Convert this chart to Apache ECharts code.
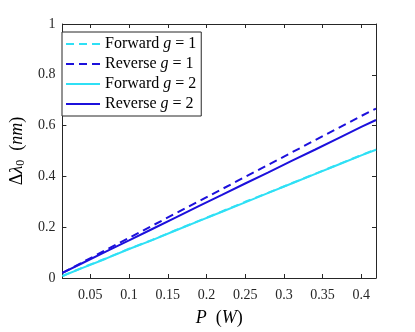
<!DOCTYPE html>
<html>
<head>
<meta charset="utf-8">
<script src="https://cdn.jsdelivr.net/npm/echarts@6/dist/echarts.min.js"></script>
<style>
  html, body { margin: 0; padding: 0; background: #fff; }
  #chart { width: 415px; height: 332px; }
</style>
</head>
<body>
<div id="chart"></div>
<script>
// P (W) sample points
var power = [0.014, 0.04, 0.07, 0.1, 0.13, 0.16, 0.19, 0.22, 0.25, 0.28, 0.31, 0.34, 0.37, 0.40, 0.419];
// delta lambda_0 (nm)
var forwardG1 = [0.008, 0.041, 0.077, 0.115, 0.150, 0.188, 0.225, 0.262, 0.300, 0.336, 0.373, 0.410, 0.447, 0.484, 0.507];
var reverseG1 = [0.020, 0.062, 0.110, 0.158, 0.206, 0.254, 0.302, 0.350, 0.398, 0.446, 0.494, 0.542, 0.590, 0.638, 0.667];
var forwardG2 = [0.008, 0.040, 0.076, 0.114, 0.149, 0.187, 0.224, 0.261, 0.298, 0.335, 0.372, 0.409, 0.446, 0.483, 0.505];
var reverseG2 = [0.020, 0.059, 0.104, 0.148, 0.193, 0.238, 0.283, 0.327, 0.372, 0.416, 0.461, 0.505, 0.550, 0.595, 0.622];
var xTicks = [0.05, 0.1, 0.15, 0.2, 0.25, 0.3, 0.35, 0.4];
var names = ['Forward g = 1', 'Reverse g = 1', 'Forward g = 2', 'Reverse g = 2'];

var cyan = '#2fe0f5';
var blue = '#1c10dc';
var axisColor = '#262626';
var font = 'Liberation Serif';

function pairs(ys) {
	return power.map(function (x, i) { return [x, ys[i]]; });
}

function makeSeries(name, ys, color, dashed) {
	return {
		name: name,
		type: 'line',
		showSymbol: false,
		symbol: 'none',
		data: pairs(ys),
		xAxisIndex: 0,
		yAxisIndex: 0,
		lineStyle: { color: color, width: 2, type: dashed ? [8, 5] : 'solid' },
		itemStyle: { color: color },
		animation: false
	};
}

var chart = echarts.init(document.getElementById('chart'));
chart.setOption({
	backgroundColor: '#fff',
	textStyle: { fontFamily: font },
	grid: { left: 54, right: 39, top: 24, bottom: 45 },
	legend: {
		data: names,
		orient: 'vertical',
		left: 62,
		top: 32,
		itemWidth: 34,
		itemHeight: 14,
		itemGap: 4,
		padding: [4, 5, 4, 3],
		backgroundColor: '#fff',
		borderColor: axisColor,
		borderWidth: 1,
		borderRadius: 0,
		itemStyle: { opacity: 0 },
		lineStyle: { width: 2 },
		formatter: function (n) {
			var parts = n.split(' g ');
			return '{a|' + parts[0] + ' }{i|g}{a| ' + parts[1] + '}';
		},
		textStyle: {
			fontFamily: font,
			fontSize: 16,
			lineHeight: 15,
			color: '#000',
			rich: {
				a: { fontFamily: font, fontSize: 16, lineHeight: 15, color: '#000' },
				i: { fontFamily: font, fontSize: 16, lineHeight: 15, fontStyle: 'italic', color: '#000' }
			}
		}
	},
	xAxis: [{
		type: 'value',
		min: 0.0139,
		max: 0.419,
		position: 'bottom',
		name: '{i|P}{r|  (}{i|W}{r|)}',
		nameLocation: 'middle',
		nameGap: 31,
		nameTextStyle: {
			rich: {
				i: { fontFamily: font, fontSize: 18, fontStyle: 'italic', color: '#000' },
				r: { fontFamily: font, fontSize: 18, color: '#000' }
			}
		},
		axisLine: { show: true, onZero: false, lineStyle: { color: axisColor, width: 1 } },
		axisTick: { show: true, inside: true, length: 4, customValues: xTicks, lineStyle: { color: axisColor } },
		axisLabel: { customValues: xTicks, margin: 10, fontFamily: font, fontSize: 14, color: '#262626' },
		splitLine: { show: false }
	}, {
		type: 'value',
		min: 0.0139,
		max: 0.419,
		position: 'top',
		axisLine: { show: true, onZero: false, lineStyle: { color: axisColor, width: 1 } },
		axisTick: { show: true, inside: true, length: 4, customValues: xTicks, lineStyle: { color: axisColor } },
		axisLabel: { show: false },
		splitLine: { show: false }
	}],
	yAxis: [{
		type: 'value',
		min: 0,
		max: 1,
		interval: 0.2,
		position: 'left',
		name: '{r|Δ}{i|λ}{s|0}{r|  (}{i|nm}{r|)}',
		nameLocation: 'middle',
		nameGap: 34,
		nameTextStyle: {
			rich: {
				i: { fontFamily: font, fontSize: 18, fontStyle: 'italic', color: '#000' },
				r: { fontFamily: font, fontSize: 18, color: '#000' },
				s: { fontFamily: font, fontSize: 12, color: '#000', padding: [8, 0, 0, 0] }
			}
		},
		axisLine: { show: true, onZero: false, lineStyle: { color: axisColor, width: 1 } },
		axisTick: { show: true, inside: true, length: 4, lineStyle: { color: axisColor } },
		axisLabel: { margin: 7, fontFamily: font, fontSize: 14, color: '#262626' },
		splitLine: { show: false }
	}, {
		type: 'value',
		min: 0,
		max: 1,
		interval: 0.2,
		position: 'right',
		axisLine: { show: true, onZero: false, lineStyle: { color: axisColor, width: 1 } },
		axisTick: { show: true, inside: true, length: 4, lineStyle: { color: axisColor } },
		axisLabel: { show: false },
		splitLine: { show: false }
	}],
	series: [
		makeSeries(names[0], forwardG1, cyan, true),
		makeSeries(names[1], reverseG1, blue, true),
		makeSeries(names[2], forwardG2, cyan, false),
		makeSeries(names[3], reverseG2, blue, false)
	]
});
</script>
</body>
</html>
